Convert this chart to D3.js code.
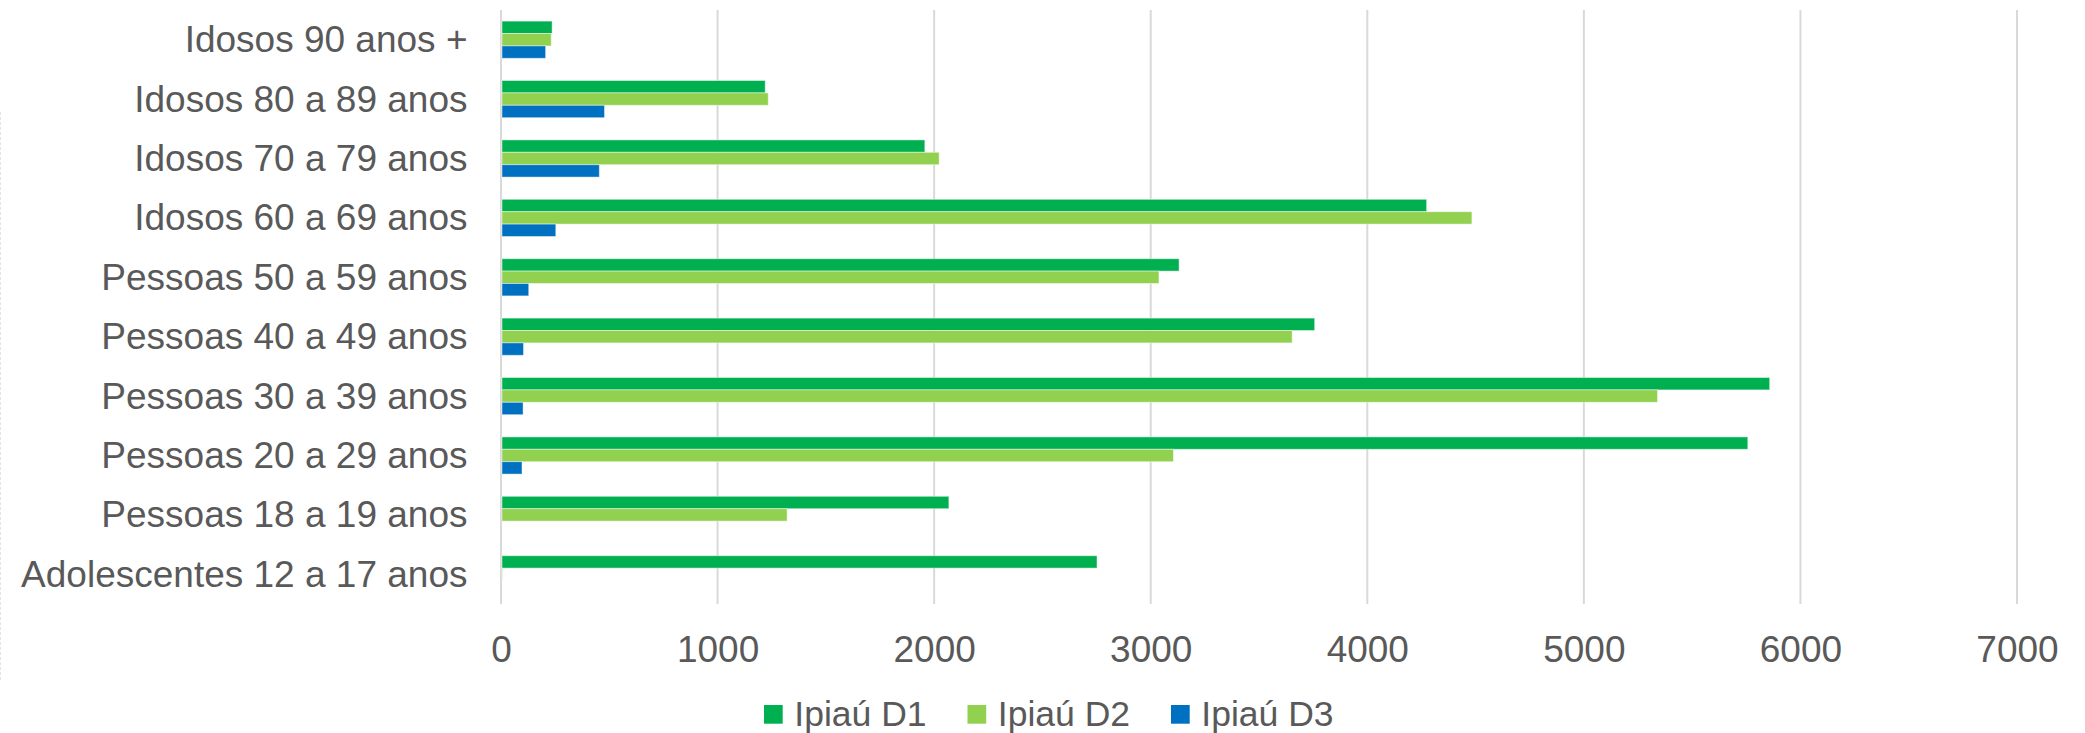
<!DOCTYPE html>
<html>
<head>
<meta charset="utf-8">
<script src="https://cdn.jsdelivr.net/npm/d3@7"></script>
<style>
  body { margin: 0; background: #fff; }
  svg text { font-family: "Liberation Sans", Arial, sans-serif; fill: #595959; }
</style>
</head>
<body>
<svg id="chart" width="2085" height="733"></svg>
<script>
// categories, top to bottom
var categories = ["Idosos 90 anos +", "Idosos 80 a 89 anos", "Idosos 70 a 79 anos",
  "Idosos 60 a 69 anos", "Pessoas 50 a 59 anos", "Pessoas 40 a 49 anos",
  "Pessoas 30 a 39 anos", "Pessoas 20 a 29 anos", "Pessoas 18 a 19 anos",
  "Adolescentes 12 a 17 anos"];

var seriesNames = ["Ipiaú D1", "Ipiaú D2", "Ipiaú D3"];
var ipiauD1 = [236, 1220, 1957, 4274, 3131, 3757, 5858, 5757, 2068, 2752];
var ipiauD2 = [232, 1234, 2023, 4483, 3038, 3653, 5340, 3105, 1321, 6];
var ipiauD3 = [206, 478, 454, 253, 128, 104, 102, 97, 0, 0];
var xTicks = [0, 1000, 2000, 3000, 4000, 5000, 6000, 7000];

var colorList = ["#00B050", "#92D050", "#0070C0"];

var seriesValues = [ipiauD1, ipiauD2, ipiauD3];

var margin = {top: 10, left: 501, right: 68, bottom: 129},
    width = 2085 - margin.left - margin.right,
    height = 733 - margin.top - margin.bottom;

var svg = d3.select("svg#chart");

// faint border left over on the left edge
svg.append("line")
    .attr("x1", 0.5).attr("x2", 0.5)
    .attr("y1", 112).attr("y2", 680)
    .attr("stroke", "#e4e4e4")
    .attr("stroke-dasharray", "3,2");

var g = svg.append("g").attr("transform", "translate(" + margin.left + "," + margin.top + ")");

var x = d3.scaleLinear()
    .domain([0, 7000])
    .range([0, width]);

var y = d3.scaleBand()
    .domain(categories)
    .range([0, height])
    .paddingInner(0.374)
    .paddingOuter(0.187);

var ySub = d3.scaleBand()
    .domain(seriesNames)
    .range([0, y.bandwidth()]);

// vertical gridlines
g.append("g")
  .selectAll("line")
  .data(xTicks)
  .enter().append("line")
    .attr("x1", function(d) { return x(d); })
    .attr("x2", function(d) { return x(d); })
    .attr("y1", 0)
    .attr("y2", height)
    .attr("stroke", "#d9d9d9")
    .attr("stroke-width", 2);

// x tick labels
var xAxis = g.append("g")
    .attr("transform", "translate(0," + height + ")")
    .call(d3.axisBottom(x).tickValues(xTicks).tickSize(0).tickPadding(0).tickFormat(d3.format("d")));
xAxis.select(".domain").remove();
xAxis.selectAll("text")
    .attr("y", 57.7)
    .attr("dy", null)
    .style("font-size", "37px")
    .attr("fill", "#595959");

// category labels
var yAxis = g.append("g")
    .call(d3.axisLeft(y).tickSize(0).tickPadding(33.5));
yAxis.select(".domain").remove();
yAxis.selectAll("text")
    .attr("dy", "0.34em")
    .style("font-size", "37px")
    .attr("fill", "#595959");

// bars
var groups = g.append("g")
  .selectAll("g")
  .data(categories)
  .enter().append("g")
    .attr("transform", function(d) { return "translate(0," + y(d) + ")"; });

groups.selectAll("rect")
  .data(function(d, i) {
    return seriesNames.map(function(s, j) { return {series: s, value: seriesValues[j][i], idx: j}; });
  })
  .enter().append("rect")
    .attr("x", x(0) + 1)
    .attr("y", function(d) { return ySub(d.series); })
    .attr("width", function(d) { return Math.max(0, x(d.value) - x(0) - 1); })
    .attr("height", ySub.bandwidth())
    .attr("fill", function(d) { return colorList[d.idx]; })
    .attr("stroke", "#fff")
    .attr("stroke-opacity", 0.45)
    .attr("stroke-width", 1);

// legend
var legend = svg.append("g").attr("transform", "translate(764,705)");
var item = legend.selectAll("g")
  .data(seriesNames)
  .enter().append("g")
    .attr("transform", function(d, i) { return "translate(" + (i * 203.5) + ",0)"; });

item.append("rect")
    .attr("width", 18.7)
    .attr("height", 18.7)
    .attr("fill", function(d, i) { return colorList[i]; });

item.append("text")
    .attr("x", 30.3)
    .attr("y", 21)
    .style("font-size", "35.5px")
    .text(function(d) { return d; });
</script>
</body>
</html>
